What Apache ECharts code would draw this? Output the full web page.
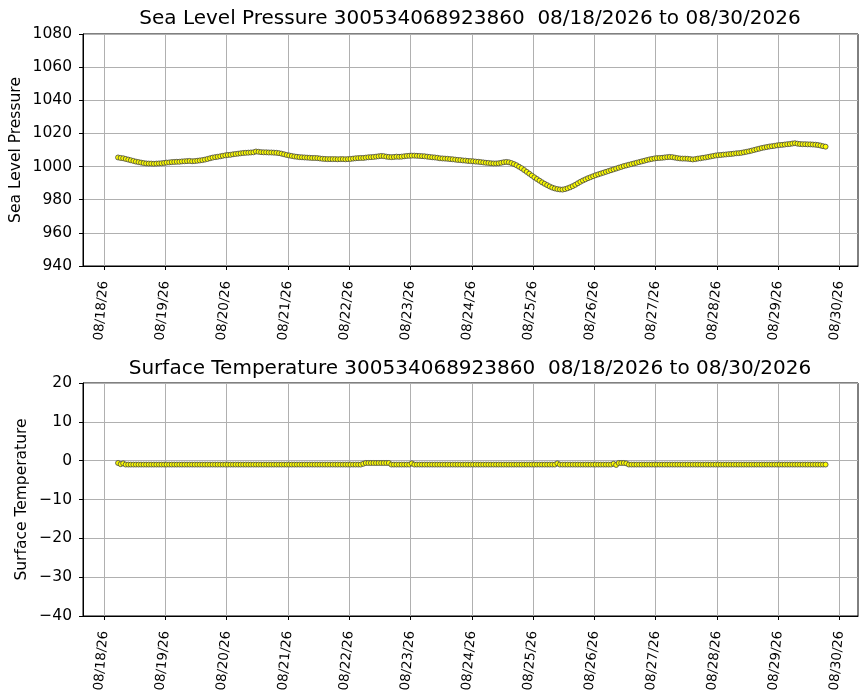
<!DOCTYPE html>
<html>
<head>
<meta charset="utf-8">
<script src="https://cdn.jsdelivr.net/npm/echarts@6/dist/echarts.min.js"></script>
<style>
  html, body { margin: 0; padding: 0; background: #fff; }
  #chart { width: 867px; height: 700px; }
</style>
</head>
<body>
<div id="chart"></div>
<script>
'use strict';

const buoyId = '300534068923860';
const dateRange = '08/18/2026 to 08/30/2026';

// x tick labels (one per day)
const dayTickLabels = ['08/18/26', '08/19/26', '08/20/26', '08/21/26', '08/22/26', '08/23/26',
  '08/24/26', '08/25/26', '08/26/26', '08/27/26', '08/28/26', '08/29/26', '08/30/26'];

// first sample and sample spacing (hourly reports)
const firstSample = [2026, 7, 18, 5, 30];
const sampleHours = 1;

// sea level pressure, one row per day
const slp0818 = [1005.5, 1005.2, 1005.0, 1004.6, 1004.2, 1003.8, 1003.4, 1003.0, 1002.7, 1002.4,
  1002.1, 1001.9, 1001.8, 1001.8, 1001.7, 1001.8, 1001.9, 1002.0, 1002.2];
const slp0819 = [1002.4, 1002.5, 1002.7, 1002.8, 1002.9, 1002.9, 1003.1, 1003.2, 1003.3, 1003.4, 1003.2, 1003.3,
  1003.5, 1003.7, 1003.9, 1004.2, 1004.6, 1005.0, 1005.4, 1005.7, 1005.9, 1006.2, 1006.5, 1006.8];
const slp0820 = [1007.0, 1007.1, 1007.4, 1007.6, 1007.8, 1008.0, 1008.2, 1008.3, 1008.4, 1008.5, 1008.6, 1009.1,
  1008.9, 1008.7, 1008.6, 1008.6, 1008.5, 1008.5, 1008.4, 1008.3, 1008.1, 1007.8, 1007.4, 1007.0];
const slp0821 = [1006.7, 1006.4, 1006.1, 1005.9, 1005.7, 1005.6, 1005.5, 1005.4, 1005.3, 1005.2, 1005.2, 1005.1,
  1004.9, 1004.7, 1004.6, 1004.5, 1004.5, 1004.5, 1004.5, 1004.4, 1004.5, 1004.5, 1004.4, 1004.5];
const slp0822 = [1004.6, 1004.8, 1005.0, 1005.1, 1005.2, 1005.2, 1005.4, 1005.6, 1005.7, 1005.8, 1006.0, 1006.2,
  1006.4, 1006.3, 1006.0, 1005.8, 1005.7, 1005.8, 1006.0, 1005.9, 1006.0, 1006.2, 1006.4, 1006.5];
const slp0823 = [1006.6, 1006.6, 1006.5, 1006.4, 1006.3, 1006.2, 1006.0, 1005.8, 1005.6, 1005.5, 1005.3, 1005.0,
  1004.9, 1004.8, 1004.7, 1004.5, 1004.4, 1004.2, 1004.0, 1003.9, 1003.7, 1003.6, 1003.4, 1003.3];
const slp0824 = [1003.2, 1003.0, 1002.9, 1002.7, 1002.5, 1002.3, 1002.2, 1002.0, 1001.9, 1001.9, 1002.0, 1002.3,
  1002.6, 1002.8, 1002.6, 1002.1, 1001.5, 1000.8, 999.9, 999.0, 997.9, 996.8, 995.7, 994.6];
const slp0825 = [993.5, 992.5, 991.5, 990.5, 989.6, 988.8, 988.0, 987.3, 986.8, 986.4, 986.2, 986.1,
  986.4, 986.9, 987.5, 988.2, 989.0, 989.9, 990.8, 991.6, 992.3, 993.0, 993.6, 994.2];
const slp0826 = [994.8, 995.3, 995.8, 996.3, 996.8, 997.3, 997.8, 998.3, 998.8, 999.3, 999.8, 1000.3,
  1000.7, 1001.1, 1001.5, 1001.9, 1002.3, 1002.7, 1003.1, 1003.5, 1003.9, 1004.3, 1004.6, 1004.9];
const slp0827 = [1005.1, 1005.2, 1005.3, 1005.5, 1005.7, 1005.8, 1005.7, 1005.4, 1005.1, 1004.9, 1004.8, 1004.8,
  1004.7, 1004.5, 1004.3, 1004.5, 1004.8, 1005.0, 1005.3, 1005.5, 1005.8, 1006.1, 1006.4, 1006.7];
const slp0828 = [1006.9, 1007.0, 1007.2, 1007.3, 1007.5, 1007.6, 1007.8, 1008.0, 1008.1, 1008.3, 1008.6, 1008.9,
  1009.2, 1009.6, 1010.0, 1010.4, 1010.8, 1011.2, 1011.5, 1011.8, 1012.1, 1012.3, 1012.5, 1012.8];
const slp0829 = [1013.0, 1013.1, 1013.3, 1013.5, 1013.6, 1013.9, 1014.1, 1013.8, 1013.6, 1013.5, 1013.5, 1013.4,
  1013.4, 1013.3, 1013.2, 1013.0, 1012.7, 1012.3, 1012.0];

// surface temperature, one row per day
const sst0818 = [-0.6, -0.9, -0.7, -1.0, -1.0, -1.0, -1.0, -1.0, -1.0, -1.0, -1.0, -1.0, -1.0, -1.0, -1.0, -1.0,
  -1.0, -1.0, -1.0];
const sst0819 = [-1.0, -1.0, -1.0, -1.0, -1.0, -1.0, -1.0, -1.0, -1.0, -1.0, -1.0, -1.0,
  -1.0, -1.0, -1.0, -1.0, -1.0, -1.0, -1.0, -1.0, -1.0, -1.0, -1.0, -1.0];
const sst0820 = [-1.0, -1.0, -1.0, -1.0, -1.0, -1.0, -1.0, -1.0, -1.0, -1.0, -1.0, -1.0,
  -1.0, -1.0, -1.0, -1.0, -1.0, -1.0, -1.0, -1.0, -1.0, -1.0, -1.0, -1.0];
const sst0821 = [-1.0, -1.0, -1.0, -1.0, -1.0, -1.0, -1.0, -1.0, -1.0, -1.0, -1.0, -1.0,
  -1.0, -1.0, -1.0, -1.0, -1.0, -1.0, -1.0, -1.0, -1.0, -1.0, -1.0, -1.0];
const sst0822 = [-1.0, -1.0, -1.0, -1.0, -1.0, -0.8, -0.6, -0.6, -0.6, -0.6, -0.6, -0.6,
  -0.6, -0.6, -0.6, -0.6, -1.0, -1.0, -1.0, -1.0, -1.0, -1.0, -1.0, -1.0];
const sst0823 = [-0.7, -1.0, -1.0, -1.0, -1.0, -1.0, -1.0, -1.0, -1.0, -1.0, -1.0, -1.0,
  -1.0, -1.0, -1.0, -1.0, -1.0, -1.0, -1.0, -1.0, -1.0, -1.0, -1.0, -1.0];
const sst0824 = [-1.0, -1.0, -1.0, -1.0, -1.0, -1.0, -1.0, -1.0, -1.0, -1.0, -1.0, -1.0,
  -1.0, -1.0, -1.0, -1.0, -1.0, -1.0, -1.0, -1.0, -1.0, -1.0, -1.0, -1.0];
const sst0825 = [-1.0, -1.0, -1.0, -1.0, -1.0, -1.0, -1.0, -1.0, -1.0, -0.7, -1.0, -1.0,
  -1.0, -1.0, -1.0, -1.0, -1.0, -1.0, -1.0, -1.0, -1.0, -1.0, -1.0, -1.0];
const sst0826 = [-1.0, -1.0, -1.0, -1.0, -1.0, -1.0, -1.0, -0.8, -1.1, -0.6, -0.6, -0.6,
  -0.7, -1.0, -1.0, -1.0, -1.0, -1.0, -1.0, -1.0, -1.0, -1.0, -1.0, -1.0];
const sst0827 = [-1.0, -1.0, -1.0, -1.0, -1.0, -1.0, -1.0, -1.0, -1.0, -1.0, -1.0, -1.0,
  -1.0, -1.0, -1.0, -1.0, -1.0, -1.0, -1.0, -1.0, -1.0, -1.0, -1.0, -1.0];
const sst0828 = [-1.0, -1.0, -1.0, -1.0, -1.0, -1.0, -1.0, -1.0, -1.0, -1.0, -1.0, -1.0,
  -1.0, -1.0, -1.0, -1.0, -1.0, -1.0, -1.0, -1.0, -1.0, -1.0, -1.0, -1.0];
const sst0829 = [-1.0, -1.0, -1.0, -1.0, -1.0, -1.0, -1.0, -1.0, -1.0, -1.0, -1.0, -1.0,
  -1.0, -1.0, -1.0, -1.0, -1.0, -1.0, -1.0];

const pressure = [].concat(slp0818, slp0819, slp0820, slp0821, slp0822, slp0823,
  slp0824, slp0825, slp0826, slp0827, slp0828, slp0829);
const temperature = [].concat(sst0818, sst0819, sst0820, sst0821, sst0822, sst0823,
  sst0824, sst0825, sst0826, sst0827, sst0828, sst0829);

const HOUR = 3600 * 1000;
const DAY = 24 * HOUR;
const t0 = new Date(...firstSample).getTime();
const times = pressure.map((_, i) => t0 + i * sampleHours * HOUR);

function parseTick(s) {
  const [m, d, y] = s.split('/').map(Number);
  return new Date(2000 + y, m - 1, d).getTime();
}
const tickTimes = dayTickLabels.map(parseTick);
const tickText = {};
tickTimes.forEach((t, i) => { tickText[t] = dayTickLabels[i]; });

// same framing as the source plot (a bit of padding either side of the data)
const xMin = tickTimes[0] - 0.343 * DAY;
const xMax = tickTimes[0] + 12.30 * DAY;

const FONT = 'DejaVu Sans';
const minus = v => String(v).replace('-', '\u2212');

// plain value axis holding epoch ms, ticks placed on the day marks
function xAxisFor(gridIndex) {
  return {
    type: 'value',
    gridIndex: gridIndex,
    min: xMin,
    max: xMax,
    axisLine: { show: true, onZero: false, lineStyle: { color: '#000', width: 1 } },
    axisTick: { show: true, length: 4, customValues: tickTimes, lineStyle: { color: '#000' } },
    splitLine: { show: true, lineStyle: { color: '#b0b0b0', width: 1 } },
    axisLabel: {
      customValues: tickTimes,
      rotate: 85,
      margin: 15,
      padding: [5, 0, 0, 0],
      color: '#000',
      fontFamily: FONT,
      fontSize: 13.3,
      formatter: v => tickText[v] || ''
    }
  };
}

function yAxisFor(gridIndex, name, min, max, interval, gap) {
  return {
    type: 'value',
    gridIndex: gridIndex,
    min: min,
    max: max,
    interval: interval,
    name: name,
    nameLocation: 'middle',
    nameGap: gap,
    nameMoveOverlap: false,
    nameTextStyle: { color: '#000', fontFamily: FONT, fontSize: 15.5 },
    axisLine: { show: true, onZero: false, lineStyle: { color: '#000', width: 1 } },
    axisTick: { show: true, length: 4, lineStyle: { color: '#000' } },
    splitLine: { show: true, lineStyle: { color: '#b0b0b0', width: 1 } },
    axisLabel: { color: '#000', fontFamily: FONT, fontSize: 15.5, margin: 11, formatter: minus }
  };
}

function seriesFor(index, values) {
  return {
    type: 'scatter',
    xAxisIndex: index,
    yAxisIndex: index,
    symbol: 'circle',
    symbolSize: 5,
    itemStyle: { color: '#ffff00', borderColor: '#444', borderWidth: 0.8, opacity: 1 },
    data: values.map((v, i) => [times[i], v]),
    silent: true,
    animation: false
  };
}

const gridBase = {
  left: 83, width: 775, show: true, borderColor: '#000', borderWidth: 1,
  backgroundColor: 'transparent', containLabel: false, outerBoundsMode: 'none'
};

const chart = echarts.init(document.getElementById('chart'), null, { renderer: 'canvas' });
chart.setOption({
  backgroundColor: '#fff',
  animation: false,
  title: [
    {
      text: 'Sea Level Pressure ' + buoyId + '  ' + dateRange,
      left: 470, top: 9, textAlign: 'center', padding: 0,
      textStyle: { color: '#000', fontFamily: FONT, fontSize: 20, fontWeight: 'normal' }
    },
    {
      text: 'Surface Temperature ' + buoyId + '  ' + dateRange,
      left: 470, top: 359, textAlign: 'center', padding: 0,
      textStyle: { color: '#000', fontFamily: FONT, fontSize: 20, fontWeight: 'normal' }
    }
  ],
  grid: [
    Object.assign({ top: 34, height: 232 }, gridBase),
    Object.assign({ top: 383, height: 233 }, gridBase)
  ],
  xAxis: [xAxisFor(0), xAxisFor(1)],
  yAxis: [
    yAxisFor(0, 'Sea Level Pressure', 940, 1080, 20, 59),
    yAxisFor(1, 'Surface Temperature', -40, 20, 10, 53)
  ],
  series: [seriesFor(0, pressure), seriesFor(1, temperature)]
});
</script>
</body>
</html>
